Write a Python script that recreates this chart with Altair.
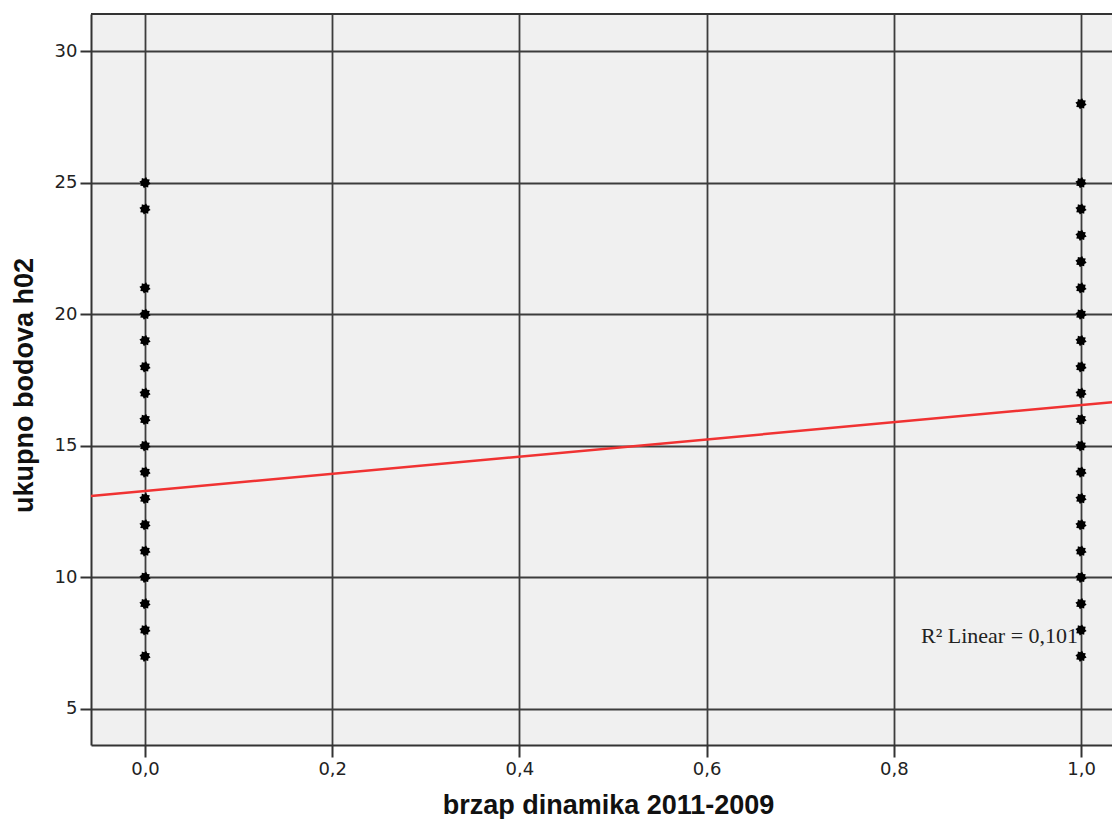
import math
import altair as alt
import pandas as pd

# ---- data ----
group0_scores = [7, 8, 9, 10, 11, 12, 13, 14, 15, 16, 17, 18, 19, 20, 21, 24, 25]
group1_scores = [7, 8, 9, 10, 11, 12, 13, 14, 15, 16, 17, 18, 19, 20, 21, 22, 23, 24, 25, 28]
fit_intercept = 13.28
fit_slope = 3.27
r2_label = "R\u00b2 Linear = 0,101"
x_ticks = [0.0, 0.2, 0.4, 0.6, 0.8, 1.0]
y_ticks = [5, 10, 15, 20, 25, 30]
x_domain = [-0.0577, 1.0331]
y_domain = [3.63, 31.41]

W, H = 1021, 731

pts = pd.DataFrame(
    {"x": [0.0] * len(group0_scores) + [1.0] * len(group1_scores),
     "y": group0_scores + group1_scores}
)
line_df = pd.DataFrame(
    {"x": x_domain, "y": [fit_intercept + fit_slope * v for v in x_domain]}
)

# 8-point star marker path
star = []
for i in range(16):
    r = 1.0 if i % 2 == 0 else 0.72
    a = math.pi * i / 8 + math.pi / 16
    star.append(f"{r * math.cos(a):.3f},{r * math.sin(a):.3f}")
star_path = "M" + " L".join(star) + " Z"

xs = alt.Scale(domain=x_domain, nice=False, zero=False)
ys = alt.Scale(domain=y_domain, nice=False, zero=False)

x_axis = alt.Axis(
    values=x_ticks,
    labelExpr="replace(format(datum.value, '.1f'), '.', ',')",
    title="brzap dinamika 2011-2009",
    titleX=517, titleY=68, titleBaseline="alphabetic", titleAlign="center",
)
y_axis = alt.Axis(
    values=y_ticks,
    title="ukupno bodova h02",
    titleX=-59, titleY=371, titleBaseline="alphabetic", titleAlign="center",
)

points = alt.Chart(pts).mark_point(
    shape=star_path, filled=True, color="black", size=130, opacity=1
).encode(
    x=alt.X("x:Q", scale=xs, axis=x_axis),
    y=alt.Y("y:Q", scale=ys, axis=y_axis),
)

fit = alt.Chart(line_df).mark_line(color="#f03232", strokeWidth=2.5).encode(
    x=alt.X("x:Q", scale=xs),
    y=alt.Y("y:Q", scale=ys),
)

top_border = alt.Chart(pts).mark_rule(color="#333333", strokeWidth=2).encode(
    x=alt.value(0), x2=alt.value(W), y=alt.value(0)
)

note = alt.Chart(pd.DataFrame({"t": [r2_label]})).mark_text(
    font="Liberation Serif", fontSize=22, color="#222222", align="left", baseline="alphabetic"
).encode(x=alt.value(830), y=alt.value(629), text="t:N")

chart = (
    alt.layer(top_border, fit, points, note)
    .properties(
        width=W, height=H,
        padding={"left": 83, "top": 6, "right": 0, "bottom": 74},
        autosize=alt.AutoSizeParams(type="none"),
    )
    .configure_view(fill="#f0f0f0", strokeWidth=0)
    .configure_axis(
        grid=True, gridColor="#3c3c3c", gridWidth=1.8, gridOpacity=1,
        domainColor="#333333", domainWidth=2,
        tickColor="#333333", tickWidth=2,
        labelFont="DejaVu Sans", labelFontSize=18, labelColor="#222222",
        titleFont="Liberation Sans", titleFontSize=27, titleFontWeight="bold", titleColor="#111111",
    )
    .configure_axisX(tickSize=12, labelPadding=3)
    .configure_axisY(tickSize=11, labelPadding=3)
)

chart.save("out.html", embed_options={"renderer": "svg", "actions": False})
